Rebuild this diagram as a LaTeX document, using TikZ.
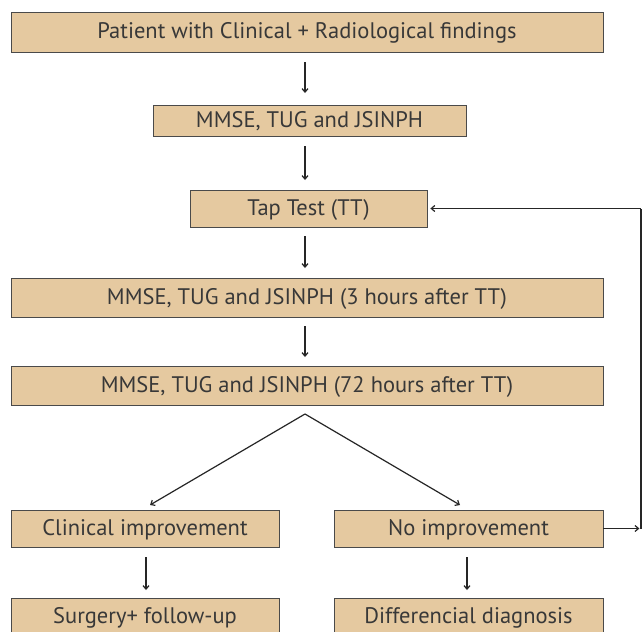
\documentclass[tikz,border=0pt]{standalone}
\usepackage{fontspec}
\setmainfont{PT Sans}
\usetikzlibrary{arrows.meta}
\definecolor{boxfill}{HTML}{E5C9A0}
\definecolor{boxline}{HTML}{4A4A4A}
\definecolor{txt}{HTML}{383838}
\tikzset{
  box/.style={draw=boxline, line width=0.8pt, fill=boxfill, text=txt, font=\fontsize{22.5}{26}\selectfont, inner sep=0pt, text height=16pt, text depth=2.5pt, anchor=center},
  conn/.style={draw=black!85, line width=1.2pt, -{Straight Barb[length=3.5pt,width=6pt]}},
  plain/.style={draw=black!85, line width=1.2pt}
}
\begin{document}
\begin{tikzpicture}[x=1pt,y=-1pt]
\clip (0,0) rectangle (643,632);
\fill[white] (0,0) rectangle (643,632);
\node[box, minimum width=592pt, minimum height=40pt] (a) at (307,32) {Patient with Clinical + Radiological findings};
\node[box, minimum width=313pt, minimum height=31pt] (b) at (309.5,120.5) {MMSE, TUG and JSINPH};
\node[box, minimum width=237pt, minimum height=37pt] (c) at (308.5,208.5) {Tap Test (TT)};
\node[box, minimum width=592pt, minimum height=39pt] (d) at (307,297.5) {MMSE, TUG and JSINPH (3 hours after TT)};
\node[box, minimum width=592pt, minimum height=39pt] (e) at (307,385.5) {MMSE, TUG and JSINPH (72 hours after TT)};
\node[box, minimum width=268pt, minimum height=37pt] (f) at (145,528.5) {Clinical improvement};
\node[box, minimum width=269pt, minimum height=37pt] (g) at (468.5,528.5) {No improvement};
\node[box, minimum width=268pt, minimum height=38pt] (h) at (145,617) {Surgery+ follow-up};
\node[box, minimum width=269pt, minimum height=38pt] (i) at (468.5,617) {Differencial diagnosis};
\coordinate (split) at (305,414);
\coordinate (lp) at (641,0);
\draw[conn] (305,62) -- (305,93);
\draw[conn] (305,146) -- (305,180);
\draw[conn] (305,236) -- (305,268);
\draw[conn] (305,326) -- (305,357);
\draw[conn] (split) -- (150,505);
\draw[conn] (split) -- (460,505);
\draw[conn] (146,557) -- (146,590);
\draw[conn] (467,557) -- (467,590);
\draw[conn] (g.east) -- ++(36,0);
\draw[plain] (g.east -| lp) -- (c.east -| lp);
\draw[conn] (c.east -| lp) -- ([xshift=3pt]c.east);
\end{tikzpicture}
\end{document}
